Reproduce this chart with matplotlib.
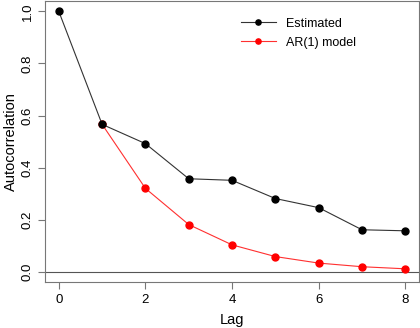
import matplotlib
matplotlib.use("Agg")
import matplotlib.pyplot as plt

lags = [0, 1, 2, 3, 4, 5, 6, 7, 8]
estimated = [1.0, 0.566, 0.492, 0.357, 0.351, 0.281, 0.246, 0.161, 0.157]
ar_lags = [1, 2, 3, 4, 5, 6, 7, 8]
ar_model = [0.566, 0.320, 0.181, 0.103, 0.058, 0.033, 0.019, 0.011]

plt.rcParams['font.family'] = ['Liberation Sans', 'DejaVu Sans']

fig = plt.figure(figsize=(4.2, 3.28), dpi=100)
ax = fig.add_axes([0.107, 0.140, 0.891, 0.857])

ax.axhline(0, color='#555555', lw=0.8, zorder=1)
ax.plot(lags, estimated, '-', color='#333333', lw=0.8, marker='o', ms=5,
        mfc='black', mec='black', label='Estimated', zorder=3)
ax.plot(ar_lags, ar_model, '-', color='#ff3030', lw=0.8, marker='o', ms=5,
        mfc='red', mec='red', label='AR(1) model', zorder=2)

ax.set_xlim(-0.32, 8.32)
ax.set_ylim(-0.04, 1.04)
ax.set_xticks([0, 2, 4, 6, 8])
ax.set_yticks([0.0, 0.2, 0.4, 0.6, 0.8, 1.0])
ax.set_yticklabels(['0.0', '0.2', '0.4', '0.6', '0.8', '1.0'], rotation=90, va='center')
ax.tick_params(labelsize=9.5, color='#777777', length=5, width=0.8)
ax.tick_params(axis='y', pad=3)
for sp in ax.spines.values():
    sp.set_color('#777777')
    sp.set_linewidth(0.8)

ax.set_xlabel('Lag', fontsize=10.5, labelpad=5)
ax.set_ylabel('Autocorrelation', fontsize=10.5, labelpad=3)

ax.legend(loc='upper right', frameon=False, fontsize=9, handlelength=2.8,
          markerscale=0.75, bbox_to_anchor=(0.86, 0.98), labelspacing=0.55)

fig.savefig('out.png', dpi=100)
